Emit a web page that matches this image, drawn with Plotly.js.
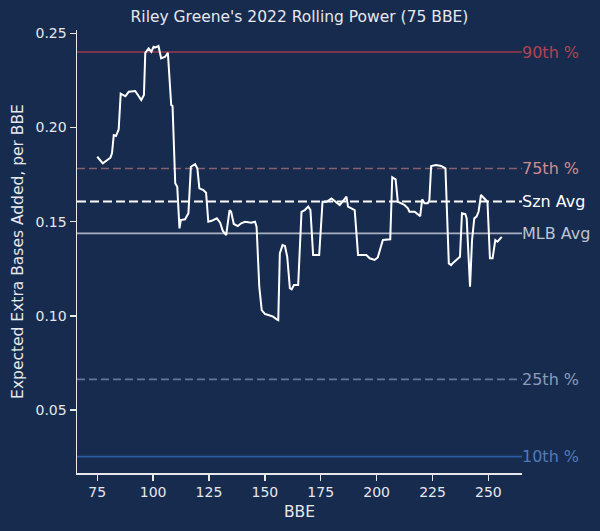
<!DOCTYPE html>
<html>
<head>
<meta charset="utf-8">
<script src="https://cdn.plot.ly/plotly-3.0.1.min.js"></script>
<style>
  html, body { margin: 0; padding: 0; background: #172b4f; }
  #chart { width: 600px; height: 531px; }
</style>
</head>
<body>
<div id="chart"></div>
<script>
// Rolling 75-BBE expected extra bases added
const bbe = [
  75, 77.5, 80.9, 81.6, 82.4, 83.4, 84.6, 85.5, 87.6, 89.1,
  92, 93.5, 94.7, 95.9, 96.5, 98, 99.2, 100.2, 101, 102.4,
  103.6, 105.4, 106.6, 108.1, 108.7, 109.9, 110.8, 111.8, 112.4, 114.3,
  115.8, 116.9, 118.8, 119.8, 120.7, 122.5, 123.7, 124.7, 126.2, 128.5,
  130, 131.2, 132.7, 134.2, 134.9, 136.1, 137.9, 139.4, 141.1, 143.9,
  145.6, 146.3, 147.5, 148.6, 150.1, 151.6, 153.7, 155.3, 156, 156.7,
  157.9, 159, 160, 161.2, 162, 163, 164.9, 166.4, 167.9, 169.4,
  170.4, 171.6, 174.3, 175.8, 177.6, 179.8, 181.7, 183.5, 185.3, 186.5,
  187.2, 190.2, 191.7, 195.4, 196.9, 199.1, 200.5, 202.8, 206.1, 207,
  208.5, 209.5, 211, 212.5, 214, 214.7, 217, 219.5, 220.4, 221.4,
  222.9, 223.6, 224.4, 226.6, 228.9, 230.8, 232.3, 233.3, 234.8, 236.3,
  237.3, 238.2, 239.7, 240.3, 241.8, 242.7, 243.7, 244.7, 245.6, 246.7,
  248.6, 249.6, 250.7, 251.9, 253.1, 254.1, 256
];
const xeba = [
  0.1845, 0.181, 0.184, 0.1863, 0.196, 0.1955, 0.199, 0.218, 0.2166, 0.219,
  0.2194, 0.2166, 0.2146, 0.2173, 0.2397, 0.242, 0.2402, 0.2429, 0.2426, 0.2433,
  0.2367, 0.2376, 0.2397, 0.212, 0.2114, 0.1704, 0.1686, 0.1465, 0.1509, 0.1513,
  0.1545, 0.1792, 0.1806, 0.1783, 0.1677, 0.1668, 0.1654, 0.15, 0.1505, 0.1518,
  0.1495, 0.1451, 0.1429, 0.1562, 0.1553, 0.1488, 0.1477, 0.1492, 0.15, 0.1495,
  0.15, 0.1473, 0.1155, 0.1031, 0.101, 0.1005, 0.0996, 0.0982, 0.0978, 0.1332,
  0.1376, 0.1371, 0.1314, 0.1147, 0.1141, 0.1164, 0.1164, 0.1553, 0.1562, 0.158,
  0.1562, 0.1323, 0.1323, 0.1606, 0.1606, 0.1624, 0.1606, 0.1589, 0.1615, 0.1633,
  0.158, 0.1562, 0.1323, 0.1323, 0.1306, 0.1297, 0.131, 0.1403, 0.1407, 0.1736,
  0.1725, 0.1606, 0.1598, 0.1589, 0.1571, 0.1553, 0.1553, 0.153, 0.1619, 0.1598,
  0.1598, 0.1615, 0.1796, 0.1801, 0.1796, 0.1783, 0.1279, 0.127, 0.1288, 0.1306,
  0.1314, 0.1545, 0.1541, 0.1518, 0.1155, 0.1403, 0.1518, 0.1527, 0.1553, 0.1642,
  0.1615, 0.1606, 0.1306, 0.1306, 0.1403, 0.1394, 0.142
];

// Reference lines
const refLabels = ['90th %', '75th %', 'Szn Avg', 'MLB Avg', '25th %', '10th %'];
const refValues = [0.2401, 0.1783, 0.1608, 0.1438, 0.0663, 0.0253];

const xTicks = [75, 100, 125, 150, 175, 200, 225, 250];
const yTicks = [0.05, 0.10, 0.15, 0.20, 0.25];

// style per reference line, same order as refLabels
const refStyle = [
  { line: '#9c3a4c', dash: 'solid', width: 1.6, text: '#b3434f' },
  { line: '#86606e', dash: '8px,4px', width: 1.6, text: '#d08c8c' },
  { line: '#ffffff', dash: '9px,4px', width: 2, text: '#ffffff' },
  { line: '#a9b1c1', dash: 'solid', width: 1.6, text: '#bcc3d1' },
  { line: '#62779a', dash: '8px,4px', width: 1.6, text: '#8d9cb6' },
  { line: '#2c5b9e', dash: 'solid', width: 1.6, text: '#4f7bb8' }
];

const FONT = 'DejaVu Sans, sans-serif';
const FG = '#e6e8ec';

const shapes = refValues.map((v, i) => ({
  type: 'line', xref: 'paper', yref: 'y',
  x0: 0, x1: 1, y0: v, y1: v,
  line: { color: refStyle[i].line, width: refStyle[i].width, dash: refStyle[i].dash },
  layer: 'below'
}));

const annotations = refValues.map((v, i) => ({
  xref: 'paper', yref: 'y', x: 1, y: v,
  xanchor: 'left', yanchor: 'middle', showarrow: false,
  xshift: -2,
  text: refLabels[i],
  font: { family: FONT, size: 16, color: refStyle[i].text }
}));

const trace = {
  x: bbe, y: xeba,
  type: 'scatter', mode: 'lines',
  line: { color: '#ffffff', width: 2 },
  hoverinfo: 'skip'
};

const layout = {
  width: 600, height: 531,
  paper_bgcolor: '#172b4f',
  plot_bgcolor: '#172b4f',
  margin: { l: 77, r: 78, t: 30, b: 58 },
  showlegend: false,
  font: { family: FONT, color: FG, size: 14 },
  title: {
    text: "Riley Greene's 2022 Rolling Power (75 BBE)",
    x: 0.5, xref: 'paper', xanchor: 'center',
    y: 1 - 17 / 531, yref: 'container', yanchor: 'middle',
    font: { family: FONT, size: 15.5, color: FG }
  },
  xaxis: {
    range: [65.95, 265.05],
    tickvals: xTicks,
    ticks: 'outside', ticklen: 6, tickwidth: 1.3, tickcolor: FG,
    showline: true, linecolor: FG, linewidth: 1.5,
    showgrid: false, zeroline: false,
    tickfont: { family: FONT, size: 14, color: FG },
    title: { text: 'BBE', standoff: 7, font: { family: FONT, size: 15.5, color: FG } }
  },
  yaxis: {
    range: [0.0166, 0.2518],
    tickvals: yTicks,
    tickformat: '.2f',
    ticks: 'outside', ticklen: 6, tickwidth: 1.3, tickcolor: FG,
    showline: true, linecolor: FG, linewidth: 1.5,
    showgrid: false, zeroline: false,
    tickfont: { family: FONT, size: 14, color: FG },
    title: { text: 'Expected Extra Bases Added, per BBE', standoff: 8, font: { family: FONT, size: 15.5, color: FG } }
  },
  shapes: shapes,
  annotations: annotations
};

Plotly.newPlot('chart', [trace], layout, { staticPlot: true, displayModeBar: false });
</script>
</body>
</html>
